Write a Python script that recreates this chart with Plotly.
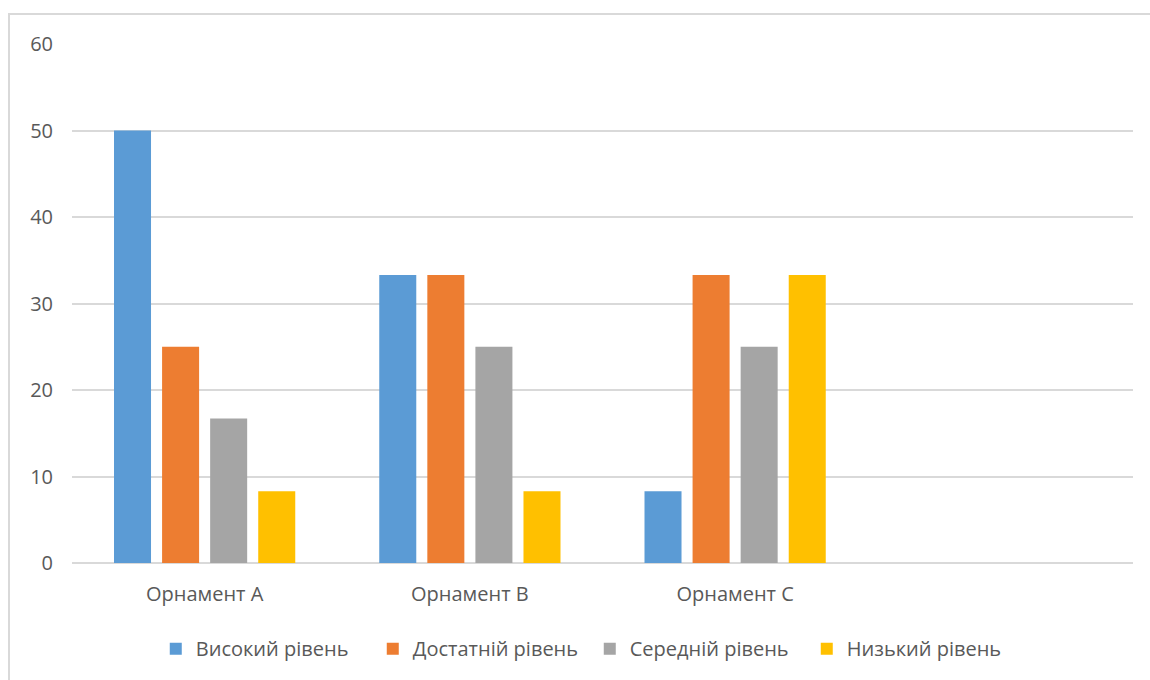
import plotly.graph_objects as go

categories = ["Орнамент A", "Орнамент B", "Орнамент C"]
series_names = ["Високий рівень", "Достатній рівень", "Середній рівень", "Низький рівень"]
high = [50, 33.3, 8.3]
sufficient = [25, 33.3, 33.3]
medium = [16.7, 25, 25]
low = [8.3, 8.3, 33.3]
y_ticks = [0, 10, 20, 30, 40, 50, 60]

colors = ["#5B9BD5", "#ED7D31", "#A5A5A5", "#FFC000"]
values = [high, sufficient, medium, low]

fig = go.Figure()
for name, vals, col in zip(series_names, values, colors):
    fig.add_trace(go.Bar(x=categories, y=vals, name=name, marker=dict(color=col, line=dict(width=0))))

font_family = "'Open Sans', sans-serif"
fs = 20
fig.update_layout(
    width=1150, height=680,
    margin=dict(l=72, r=17, t=44, b=117),
    paper_bgcolor="white", plot_bgcolor="white",
    barmode="group", bargap=0.275, bargroupgap=0.23,
    font=dict(family=font_family, size=fs, color="#595959"),
    showlegend=True,
    legend=dict(orientation="h", x=0.488, xanchor="center", y=-0.165, yanchor="middle",
                font=dict(size=fs, color="#595959"), itemwidth=30, traceorder="normal",
                entrywidth=172),
    xaxis=dict(type="category", range=[-0.5, 3.5], showgrid=False, showline=False, zeroline=False,
               ticks="", tickfont=dict(size=fs, color="#595959"), ticklabelstandoff=17),
    yaxis=dict(range=[0, 60], tickvals=y_ticks, showgrid=True, gridcolor="#D9D9D9", gridwidth=1.5,
               zeroline=True, zerolinecolor="#D9D9D9", zerolinewidth=1.5, showline=False,
               ticks="", tickfont=dict(size=fs, color="#595959"), ticklabelstandoff=18),
    shapes=[dict(type="rect", xref="paper", yref="paper",
                 x0=(9 - 72) / 1061, x1=(1160 - 72) / 1061,
                 y0=(563 - 690) / 519, y1=1 + (44 - 14) / 519,
                 line=dict(color="#D9D9D9", width=2), fillcolor="rgba(0,0,0,0)", layer="below")],
)

fig.write_html("out.html")
